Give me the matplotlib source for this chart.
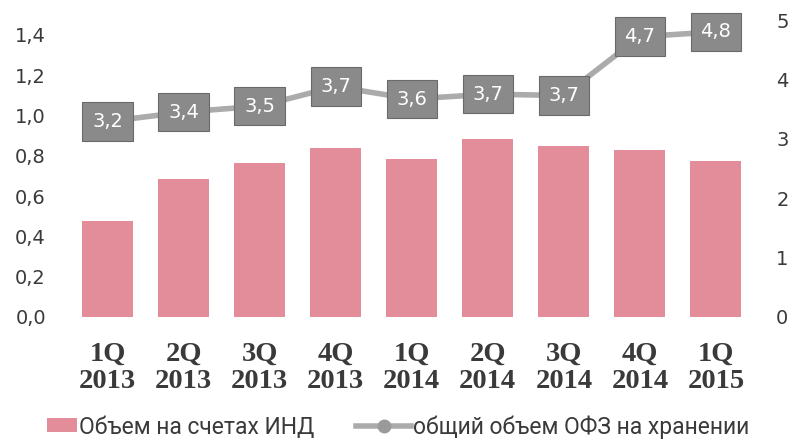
import matplotlib
matplotlib.use("Agg")
import matplotlib.pyplot as plt
from matplotlib.patches import Patch
from matplotlib.lines import Line2D
import numpy as np

categories = ["1Q\n2013", "2Q\n2013", "3Q\n2013", "4Q\n2013", "1Q\n2014",
              "2Q\n2014", "3Q\n2014", "4Q\n2014", "1Q\n2015"]
ind_volume = [0.478, 0.685, 0.766, 0.839, 0.785, 0.882, 0.851, 0.829, 0.776]
ofz_total = [3.29, 3.45, 3.55, 3.88, 3.67, 3.75, 3.73, 4.72, 4.80]
ofz_labels = ["3,2", "3,4", "3,5", "3,7", "3,6", "3,7", "3,7", "4,7", "4,8"]
left_ticks = [0.0, 0.2, 0.4, 0.6, 0.8, 1.0, 1.2, 1.4]
left_ticklabels = ["0,0", "0,2", "0,4", "0,6", "0,8", "1,0", "1,2", "1,4"]
right_ticks = [0, 1, 2, 3, 4, 5]
legend_labels = ["Объем на счетах ИНД", "общий объем ОФЗ на хранении"]

bar_color = "#e38d9b"
line_color = "#ababab"
box_color = "#8a8a8a"
box_edge = "#6a6a6a"
text_color = "#3a3a3a"

fig = plt.figure(figsize=(7.92, 4.41), dpi=100)
ax = fig.add_axes([69.5 / 792, 1 - 317 / 441, (754 - 69.5) / 792, (317 - 20) / 441])
ax2 = ax.twinx()

x = np.arange(len(categories))
ax.bar(x, ind_volume, width=0.67, color=bar_color, zorder=2)
ax.set_xlim(-0.5, len(categories) - 0.5)
ax.set_ylim(0, 1.474)
ax.set_yticks(left_ticks)
ax.set_yticklabels(left_ticklabels)
ax.set_xticks(x)
ax.set_xticklabels(categories, fontfamily="Liberation Serif", fontweight="bold",
                   fontsize=20.5, color=text_color, linespacing=1.08)
ax.tick_params(axis="x", length=0, pad=18)
ax.tick_params(axis="y", length=0, pad=17, labelsize=14, labelcolor=text_color)

ax2.plot(x, ofz_total, color=line_color, lw=4, zorder=3, solid_capstyle="butt")
for xi, yi, lab in zip(x, ofz_total, ofz_labels):
    ax2.text(xi, yi, lab, ha="center", va="center", color="white", fontsize=14,
             fontfamily="DejaVu Sans", zorder=4,
             bbox=dict(boxstyle="square,pad=0.5", fc=box_color, ec=box_edge, lw=0.8))
ax2.set_ylim(0, 5)
ax2.set_yticks(right_ticks)
ax2.set_yticklabels([str(t) for t in right_ticks])
ax2.tick_params(axis="y", length=0, pad=16, labelsize=14, labelcolor=text_color)

for a in (ax, ax2):
    for s in a.spines.values():
        s.set_visible(False)

leg_font = dict(family=["Roboto", "DejaVu Sans"], size=16.5)
h1 = Patch(facecolor=bar_color, edgecolor="none")
h2 = Line2D([0], [0], color=line_color, lw=4, marker="o", markersize=9,
            markerfacecolor="#9a9a9a", markeredgecolor="#9a9a9a")
l1 = fig.legend([h1], [legend_labels[0]], loc="center left",
                bbox_to_anchor=(47 / 792, 1 - 427 / 441), frameon=False,
                prop=leg_font, handlelength=1.3, handleheight=0.55,
                handletextpad=0.1, borderpad=0, borderaxespad=0, labelcolor=text_color)
l2 = fig.legend([h2], [legend_labels[1]], loc="center left",
                bbox_to_anchor=(356 / 792, 1 - 427 / 441), frameon=False,
                prop=leg_font, handlelength=2.4, handletextpad=0.1,
                borderpad=0, borderaxespad=0, labelcolor=text_color)

fig.savefig("out.png", dpi=100)
